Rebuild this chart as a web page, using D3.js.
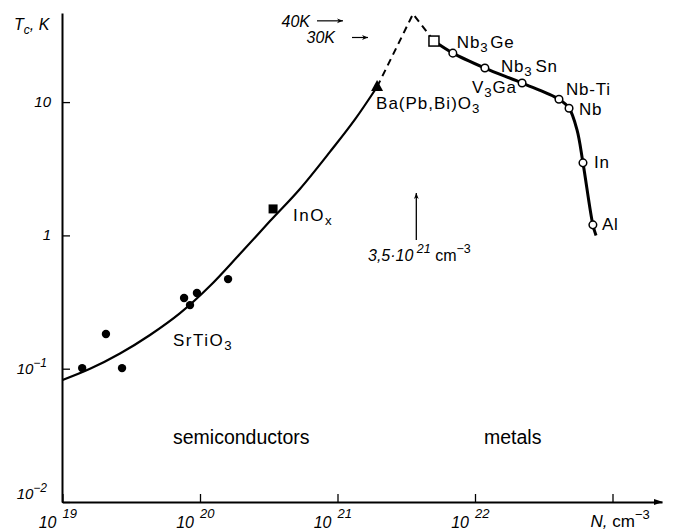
<!DOCTYPE html>
<html><head><meta charset="utf-8">
<script src="https://cdn.jsdelivr.net/npm/d3@7"></script>
<style>body{margin:0;background:#fff}svg{display:block}</style>
</head><body><svg id="c" width="678" height="530"></svg>
<script>
// ---- data ----
const xTickValues = [1e19, 1e20, 1e21, 1e22, 1e23];
const xTickExps = ["19", "20", "21", "22", ""];
const yTickValues = [0.01, 0.1, 1, 10];
const yTickBases = ["10", "10", "1", "10"];
const yTickExps = ["−2", "−1", "", ""];

// SrTiO3 measurements (N in cm^-3, Tc in K)
const srN = [1.39e19, 2.07e19, 2.71e19, 7.66e19, 8.46e19, 9.5e19, 1.6e20];
const srT = [0.101, 0.182, 0.101, 0.339, 0.30, 0.37, 0.47];
// InOx and Ba(Pb,Bi)O3
const inoxN = [3.4e20], inoxT = [1.58];
const bpbN = [1.94e21], bpbT = [13.0];
// Nb3Ge (open square)
const sqN = [5.03e21], sqT = [28.7];
// metals
const metalNames = ["Nb3Ge", "Nb3Sn", "V3Ga", "Nb-Ti", "Nb", "In", "Al"];
const metalN = [6.9e21, 1.18e22, 2.2e22, 4.08e22, 4.83e22, 6.1e22, 7.2e22];
const metalT = [23.3, 18.0, 13.9, 10.5, 9.0, 3.5, 1.2];
// semiconductor trend curve
const semiCurveN = [1.0e19, 1.585e19, 2.62e19, 4.33e19, 7.16e19, 1.18e20, 1.95e20, 3.23e20, 5.33e20, 8.81e20, 1.34e21, 1.94e21];
const semiCurveT = [0.0822, 0.0998, 0.130, 0.179, 0.261, 0.417, 0.725, 1.28, 2.23, 4.23, 7.41, 13.0];
// dashed extrapolation
const dashN = [1.94e21, 3.54e21, 5.03e21];
const dashT = [13.0, 45.8, 28.7];
// metal trend curve
const metalCurveN = [5.03e21, 6.9e21, 1.18e22, 2.2e22, 4.08e22, 4.83e22, 5.52e22, 6.1e22, 7.2e22, 7.59e22];
const metalCurveT = [28.7, 23.3, 18.0, 13.9, 10.5, 9.0, 6.18, 3.5, 1.2, 1.0];
// annotations
const boundaryN = 3.5e21;
const arrowTemps = [40, 30];

// ---- layout ----
const svg = d3.select("#c");
const FONT = "'Liberation Sans', Arial, sans-serif";
const x = d3.scaleLog().domain([1e19, Math.pow(10, 23.36)]).range([62.5, 662]);
const y = d3.scaleLog().domain([0.01, 46.6]).range([502, 13]);

svg.append("defs").append("marker").attr("id", "ah").attr("viewBox", "0 0 10 10")
  .attr("refX", 10).attr("refY", 5).attr("markerWidth", 10).attr("markerHeight", 6)
  .attr("markerUnits", "userSpaceOnUse").attr("orient", "auto")
  .append("path").attr("d", "M0,1 L10,5 L0,9 L3,5 Z").attr("fill", "#000");

// axes
const gx = svg.append("g").attr("transform", "translate(0,502)")
  .call(d3.axisBottom(x).tickValues(xTickValues).tickSize(-8).tickSizeOuter(0).tickFormat(""));
const gy = svg.append("g").attr("transform", "translate(62,0)")
  .call(d3.axisLeft(y).tickValues(yTickValues).tickSize(-8).tickSizeOuter(0).tickFormat(""));
[gx, gy].forEach(g => {
  g.select(".domain").attr("stroke", "#000").attr("stroke-width", 2);
  g.selectAll(".tick line").attr("stroke", "#000").attr("stroke-width", 1.3);
});
svg.append("path").attr("d", `M${x.range()[1]-8},499 L${x.range()[1]+1},502 L${x.range()[1]-8},505 Z`).attr("fill", "#000");

// x tick labels
xTickValues.forEach((v, i) => {
  const px = x(v);
  if (xTickExps[i]) {
    svg.append("text").attr("x", px - 6).attr("y", 528).attr("text-anchor", "end")
      .attr("font-family", FONT).attr("font-style", "italic").attr("font-size", 16).text("10");
    svg.append("text").attr("x", px).attr("y", 518)
      .attr("font-family", FONT).attr("font-style", "italic").attr("font-size", 13).text(xTickExps[i]);
  } else {
    const t = svg.append("text").attr("x", px - 22).attr("y", 527).attr("font-family", FONT).attr("font-size", 17);
    t.append("tspan").attr("font-style", "italic").text("N, ");
    t.append("tspan").text("cm");
    t.append("tspan").attr("dy", -8).attr("font-size", 13).text("−3");
  }
});
// y tick labels
yTickValues.forEach((v, i) => {
  const py = y(v) + (v === 0.01 ? -3 : 5);
  const t = svg.append("text").attr("x", yTickExps[i] ? 47 : 51).attr("y", py).attr("text-anchor", "end")
    .attr("font-family", FONT).attr("font-style", "italic").attr("font-size", 15);
  t.append("tspan").text(yTickBases[i]);
  if (yTickExps[i]) t.append("tspan").attr("dy", -7).attr("font-size", 12).text(yTickExps[i]);
});
// y axis title
const yt = svg.append("text").attr("x", 14).attr("y", 30).attr("font-family", FONT).attr("font-style", "italic").attr("font-size", 16);
yt.append("tspan").text("T");
yt.append("tspan").attr("dy", 4).attr("font-size", 12).text("c");
yt.append("tspan").attr("dy", -4).text(", K");

// curves
const line = d3.line().x(d => x(d[0])).y(d => y(d[1])).curve(d3.curveMonotoneX);
svg.append("path").datum(semiCurveN.map((n, i) => [n, semiCurveT[i]])).attr("d", line)
  .attr("fill", "none").attr("stroke", "#000").attr("stroke-width", 2.2);
svg.append("path").datum(dashN.map((n, i) => [n, dashT[i]]))
  .attr("d", d3.line().x(d => x(d[0])).y(d => y(d[1])))
  .attr("fill", "none").attr("stroke", "#000").attr("stroke-width", 2).attr("stroke-dasharray", "7,5");
svg.append("path").datum(metalCurveN.map((n, i) => [n, metalCurveT[i]]))
  .attr("d", d3.line().x(d => x(d[0])).y(d => y(d[1])).curve(d3.curveCatmullRom.alpha(0.5)))
  .attr("fill", "none").attr("stroke", "#000").attr("stroke-width", 3);

// markers
svg.selectAll(".sr").data(srN.map((n, i) => [n, srT[i]])).join("circle")
  .attr("cx", d => x(d[0])).attr("cy", d => y(d[1])).attr("r", 4.2).attr("fill", "#000");
svg.selectAll(".ix").data(inoxN.map((n, i) => [n, inoxT[i]])).join("rect")
  .attr("x", d => x(d[0]) - 4.5).attr("y", d => y(d[1]) - 4.5).attr("width", 9).attr("height", 9).attr("fill", "#000");
svg.selectAll(".bp").data(bpbN.map((n, i) => [n, bpbT[i]])).join("path")
  .attr("d", d => { const cx = x(d[0]), cy = y(d[1]); return `M${cx},${cy-7} L${cx+6},${cy+4} L${cx-6},${cy+4} Z`; })
  .attr("fill", "#000");
svg.selectAll(".sq").data(sqN.map((n, i) => [n, sqT[i]])).join("rect")
  .attr("x", d => x(d[0]) - 5).attr("y", d => y(d[1]) - 5).attr("width", 10).attr("height", 10)
  .attr("fill", "#fff").attr("stroke", "#000").attr("stroke-width", 1.5);
svg.selectAll(".mt").data(metalN.map((n, i) => [n, metalT[i]])).join("circle")
  .attr("cx", d => x(d[0])).attr("cy", d => y(d[1])).attr("r", 3.8)
  .attr("fill", "#fff").attr("stroke", "#000").attr("stroke-width", 1.5);

// labels with sub/superscripts
function rich(px, py, parts, size, italic, spacing) {
  const t = svg.append("text").attr("x", px).attr("y", py).attr("font-family", FONT).attr("font-size", size);
  if (italic) t.attr("font-style", "italic");
  if (spacing) t.attr("letter-spacing", spacing);
  let shift = 0;
  parts.forEach(p => {
    const target = p.sub ? 4 : p.sup ? -8 : 0;
    const s = t.append("tspan").attr("dy", target - shift).text(p.t);
    if (p.dx) s.attr("dx", p.dx);
    if (p.sub || p.sup) s.attr("font-size", size * 0.78);
    if (p.upright) s.attr("font-style", "normal");
    shift = target;
  });
  return t;
}
const metalLabelParts = {
  "Nb3Ge": [{t: "Nb"}, {t: "3", sub: 1}, {t: "Ge", dx: 2}],
  "Nb3Sn": [{t: "Nb"}, {t: "3", sub: 1}, {t: "Sn", dx: 3}],
  "V3Ga": [{t: "V"}, {t: "3", sub: 1}, {t: "Ga"}],
  "Nb-Ti": [{t: "Nb-Ti"}],
  "Nb": [{t: "Nb"}],
  "In": [{t: "In"}],
  "Al": [{t: "Al"}]
};
const metalLabelOffsets = [[4, -5], [16, 4], [-50, 10], [7, -4], [10, 7], [11, 5], [9, 5]];
metalNames.forEach((nm, i) => {
  const o = metalLabelOffsets[i];
  rich(x(metalN[i]) + o[0], y(metalT[i]) + o[1], metalLabelParts[nm], 17, false, 0.8);
});
rich(x(bpbN[0]) - 1, y(bpbT[0]) + 22, [{t: "Ba(Pb,Bi)O"}, {t: "3", sub: 1}], 17, false, 1);
rich(x(inoxN[0]) + 20, y(inoxT[0]) + 12, [{t: "InO"}, {t: "x", sub: 1}], 17, false, 1.5);
rich(173, 346, [{t: "SrTiO"}, {t: "3", sub: 1}], 17, false, 1.5);

svg.append("text").attr("x", 173).attr("y", 444).attr("font-family", FONT).attr("font-size", 19.5).text("semiconductors");
svg.append("text").attr("x", 484).attr("y", 444).attr("font-family", FONT).attr("font-size", 19.5).text("metals");

// temperature arrows
const arrowTextX = [310, 335], arrowFrom = [317, 352], arrowTo = [343, 368];
arrowTemps.forEach((tk, i) => {
  const py = y(tk) - 1;
  svg.append("text").attr("x", arrowTextX[i]).attr("y", py + 6).attr("text-anchor", "end")
    .attr("font-family", FONT).attr("font-style", "italic").attr("font-size", 16).text(tk + "K");
  svg.append("line").attr("x1", arrowFrom[i]).attr("x2", arrowTo[i]).attr("y1", py).attr("y2", py)
    .attr("stroke", "#000").attr("stroke-width", 1.2).attr("marker-end", "url(#ah)");
});
// boundary arrow
const bx = x(boundaryN) + 4;
svg.append("line").attr("x1", bx).attr("x2", bx).attr("y1", 240).attr("y2", 193)
  .attr("stroke", "#000").attr("stroke-width", 1.3).attr("marker-end", "url(#ah)");
rich(368, 261, [{t: "3,5·10"}, {t: " 21", sup: 1}, {t: " cm", upright: 1}, {t: "−3", sup: 1, upright: 1}], 16, true);
</script></body></html>
